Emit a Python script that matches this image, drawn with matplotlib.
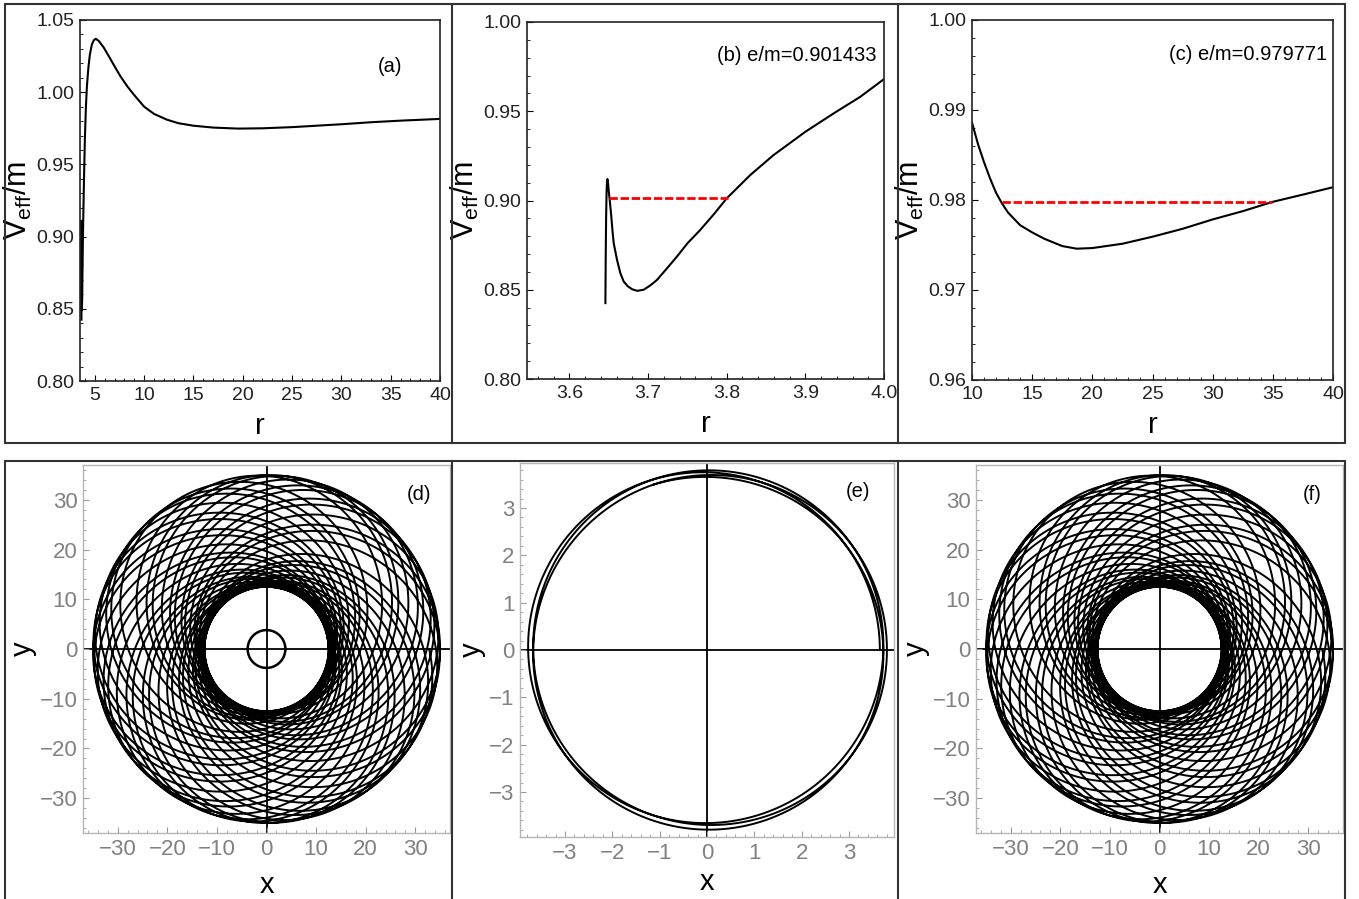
import numpy as np
import matplotlib.pyplot as plt
from matplotlib.ticker import MultipleLocator
from matplotlib.patches import Rectangle
from matplotlib.lines import Line2D

plt.rcParams['font.family'] = ['Liberation Sans', 'DejaVu Sans']

# ---- effective potential, panel (a)
r_a = [3.6457, 3.6466, 3.6478, 3.6512, 3.66, 3.686, 3.72, 3.76, 3.8, 3.9, 4.0,
       4.1, 4.2, 4.35, 4.5, 4.7, 4.9, 5.1, 5.4, 5.9, 6.5, 7.0, 7.6, 8.3, 9.0,
       10, 11, 12.3, 13.5, 15, 17, 19.5, 22, 25, 28, 30, 33, 36, 40]
V_a = [0.8425, 0.890, 0.911, 0.900, 0.867, 0.849, 0.857, 0.880, 0.901, 0.9385, 0.969,
       0.990, 1.004, 1.017, 1.026, 1.033, 1.036, 1.037, 1.0355, 1.031, 1.024, 1.018, 1.011, 1.004, 0.998,
       0.990, 0.985, 0.981, 0.9785, 0.9768, 0.9755, 0.9748, 0.975, 0.9758, 0.977, 0.9778, 0.9792, 0.9803, 0.9815]

# ---- panel (b)
r_b = [3.6457, 3.6461, 3.6466, 3.6472, 3.6478, 3.6483, 3.6490, 3.6500, 3.6512, 3.653,
       3.655, 3.6563, 3.6605, 3.6647, 3.669, 3.674, 3.6796, 3.686, 3.6944, 3.703,
       3.7113, 3.724, 3.7367, 3.75, 3.7663, 3.783, 3.8, 3.83, 3.8594, 3.9, 3.9356, 3.9695, 4.0]
V_b = [0.8425, 0.868, 0.890, 0.905, 0.911, 0.912, 0.910, 0.905, 0.9003, 0.892,
       0.8816, 0.876, 0.8667, 0.8593, 0.8546, 0.852, 0.8503, 0.8494, 0.850, 0.8525,
       0.8555, 0.862, 0.8686, 0.876, 0.8835, 0.892, 0.9012, 0.9143, 0.9254, 0.9385, 0.9487, 0.958, 0.968]
E_b = 0.901433
red_b = [3.6508, 3.8014]

# ---- panel (c)
r_c = [10, 10.5, 11, 11.5, 12, 12.5, 13, 14, 15, 16, 17.5, 18.7, 20, 22.5, 25, 27.5, 30, 32.5, 35, 37.5, 40]
V_c = [0.9886, 0.9862, 0.9842, 0.9824, 0.9808, 0.9796, 0.9786, 0.9772, 0.9764, 0.9757, 0.97488,
       0.97459, 0.97466, 0.97514, 0.97592, 0.9768, 0.97784, 0.97876, 0.9798, 0.9806, 0.98142]
E_c = 0.979771
red_c = [12.5, 34.95]

# ---- orbits (periapsis, apoapsis, revolutions, radial/angular ratio)
d_rmin, d_rmax, d_turns, d_k = 12.5, 35.0, 45, 0.7236
e_rmin, e_rmax, e_turns, e_k = 3.651, 3.801, 3.3, 1.25
inner_r = 3.8


def orbit(rmin, rmax, turns, k):
    phi = np.linspace(0, 2 * np.pi * turns, 40000)
    p = 2 * rmin * rmax / (rmin + rmax)
    ecc = (rmax - rmin) / (rmax + rmin)
    r = p / (1 + ecc * np.cos(k * phi))
    return r * np.cos(phi), r * np.sin(phi)


W, H = 1359, 899
fig = plt.figure(figsize=(W / 100, H / 100), dpi=100)


def ax_at(l, t, r, b):
    return fig.add_axes([l / W, 1 - b / H, (r - l) / W, (b - t) / H])


def style_top(ax, xmaj, xmin, ymaj, ymin, yfmt):
    for s in ax.spines.values():
        s.set_color('#222222')
        s.set_linewidth(1.2)
    ax.xaxis.set_major_locator(MultipleLocator(xmaj))
    ax.xaxis.set_minor_locator(MultipleLocator(xmin))
    ax.yaxis.set_major_locator(MultipleLocator(ymaj))
    ax.yaxis.set_minor_locator(MultipleLocator(ymin))
    ax.yaxis.set_major_formatter(yfmt)
    ax.tick_params(which='major', direction='in', length=4, width=0.8, labelsize=14,
                   labelcolor='#222222', pad=4)
    ax.tick_params(which='minor', direction='in', length=2, width=0.6)
    ax.set_xlabel('r', fontsize=21, labelpad=6)
    ax.set_ylabel('V$_{\\mathregular{eff}}$/m', fontsize=22, labelpad=2)


def style_bot(ax, lim, maj, mnr, xpad):
    for s in ax.spines.values():
        s.set_color('#b5b5b5')
        s.set_linewidth(1.0)
    ax.set_xlim(-lim, lim)
    ax.set_ylim(-lim, lim)
    ax.axhline(0, color='k', lw=1.3, zorder=1)
    ax.axvline(0, color='k', lw=1.3, zorder=1)
    for a in (ax.xaxis, ax.yaxis):
        a.set_major_locator(MultipleLocator(maj))
        a.set_minor_locator(MultipleLocator(mnr))
    ax.tick_params(which='major', direction='in', length=4, width=0.8, color='#999999',
                   labelsize=16, labelcolor='#808080', pad=4)
    ax.tick_params(which='minor', direction='in', length=2, width=0.6, color='#999999')
    ax.set_xlabel('x', fontsize=21, labelpad=xpad)
    ax.set_ylabel('y', fontsize=21, labelpad=2)


# (a)
ax = ax_at(80, 20, 440, 381)
ax.plot(r_a, V_a, color='k', lw=1.5)
ax.set_xlim(3.5, 40)
ax.set_ylim(0.80, 1.05)
style_top(ax, 5, 1, 0.05, 0.01, '{x:.2f}')
ax.text(0.86, 0.87, '(a)', transform=ax.transAxes, fontsize=14.5, ha='center', va='center')

# (b)
ax = ax_at(527, 22, 884, 379)
ax.plot(r_b, V_b, color='k', lw=1.5)
ax.plot(red_b, [E_b, E_b], color='red', lw=2.0, dashes=(3, 1))
ax.set_xlim(3.546, 4.0)
ax.set_ylim(0.80, 1.00)
style_top(ax, 0.1, 0.02, 0.05, 0.01, '{x:.2f}')
ax.text(0.98, 0.905, '(b) e/m=0.901433', transform=ax.transAxes, fontsize=14.5, ha='right', va='center')

# (c)
ax = ax_at(972, 20, 1333, 380)
ax.plot(r_c, V_c, color='k', lw=1.5)
ax.plot(red_c, [E_c, E_c], color='red', lw=2.0, dashes=(3, 1))
ax.set_xlim(10, 40)
ax.set_ylim(0.96, 1.00)
style_top(ax, 5, 1, 0.01, 0.002, '{x:.2f}')
ax.text(0.985, 0.905, '(c) e/m=0.979771', transform=ax.transAxes, fontsize=14.5, ha='right', va='center')

# (d)
ax = ax_at(83, 465, 450, 833)
xd, yd = orbit(d_rmin, d_rmax, d_turns, d_k)
ax.plot(xd, yd, color='k', lw=1.4)
t = np.linspace(0, 2 * np.pi, 200)
ax.plot(inner_r * np.cos(t), inner_r * np.sin(t), color='k', lw=1.8)
style_bot(ax, 37, 10, 2, 8)
ax.text(0.915, 0.92, '(d)', transform=ax.transAxes, fontsize=14.5, ha='center', va='center')

# (e)
ax = ax_at(520, 463, 894, 837)
xe, ye = orbit(e_rmin, e_rmax, e_turns, e_k)
ax.plot(xe, ye, color='k', lw=1.4)
style_bot(ax, 3.95, 1, 0.2, 3)
ax.text(0.905, 0.925, '(e)', transform=ax.transAxes, fontsize=14.5, ha='center', va='center')

# (f)
ax = ax_at(976, 465, 1343, 833)
ax.plot(xd, yd, color='k', lw=1.4)
style_bot(ax, 37, 10, 2, 8)
ax.text(0.915, 0.92, '(f)', transform=ax.transAxes, fontsize=14.5, ha='center', va='center')

# panel frames
for top, bot in [(4, 443), (461, 905)]:
    fig.add_artist(Rectangle((5 / W, 1 - bot / H), 1340 / W, (bot - top) / H,
                             transform=fig.transFigure, fill=False, ec='#333333', lw=1.5))
    for xs in (452, 898):
        fig.add_artist(Line2D([xs / W, xs / W], [1 - bot / H, 1 - top / H],
                              transform=fig.transFigure, color='#333333', lw=1.5))

fig.savefig('out.png', dpi=100)
